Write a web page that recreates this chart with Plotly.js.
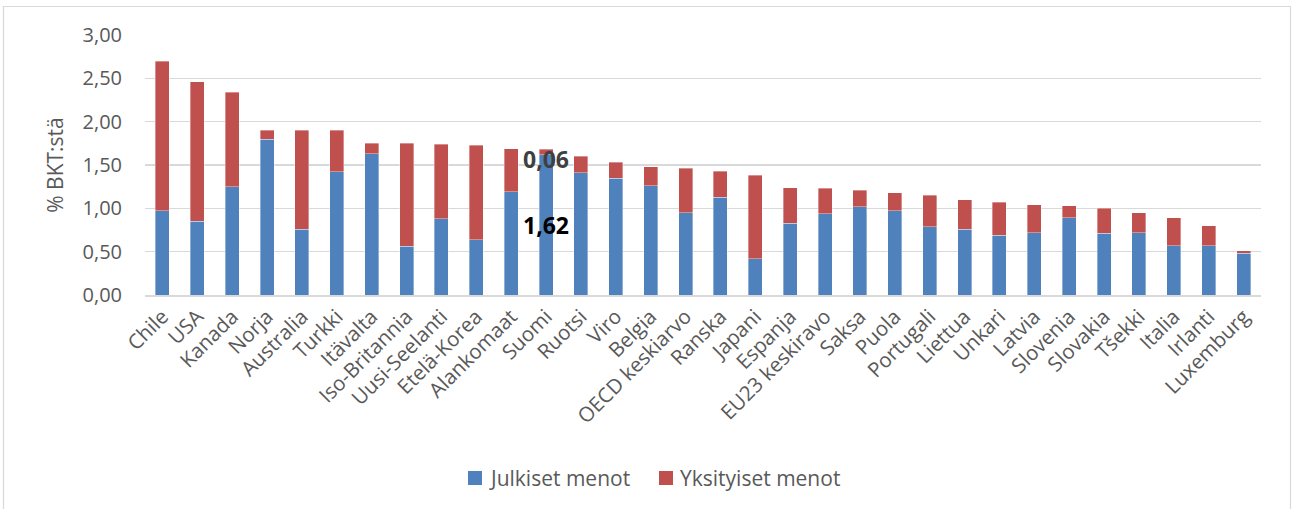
<!DOCTYPE html>
<html>
<head>
<meta charset="utf-8">
<script src="https://cdn.plot.ly/plotly-3.0.1.min.js"></script>
<style>
html,body{margin:0;padding:0;background:#fff;}
#chart{width:1292px;height:509px;}
</style>
</head>
<body>
<div id="chart"></div>
<script>
const categories = ["Chile","USA","Kanada","Norja","Australia","Turkki","Itävalta","Iso-Britannia","Uusi-Seelanti","Etelä-Korea","Alankomaat","Suomi","Ruotsi","Viro","Belgia","OECD keskiarvo","Ranska","Japani","Espanja","EU23 keskiravo","Saksa","Puola","Portugali","Liettua","Unkari","Latvia","Slovenia","Slovakia","Tšekki","Italia","Irlanti","Luxemburg"];
const publicSpend = [0.97,0.85,1.25,1.80,0.76,1.42,1.63,0.56,0.88,0.64,1.19,1.62,1.41,1.35,1.26,0.95,1.13,0.42,0.83,0.94,1.02,0.97,0.79,0.76,0.69,0.72,0.89,0.71,0.72,0.57,0.57,0.48];
const totalSpend  = [2.70,2.46,2.34,1.90,1.90,1.90,1.75,1.75,1.74,1.73,1.69,1.68,1.60,1.53,1.48,1.46,1.43,1.38,1.24,1.23,1.21,1.18,1.15,1.10,1.07,1.04,1.03,1.00,0.95,0.89,0.80,0.51];
const privateSpend = totalSpend.map((t,i)=>+(t-publicSpend[i]).toFixed(2));
const seriesNames = ["Julkiset menot","Yksityiset menot"];
const seriesColors = ["#4F81BD","#C0504D"];
const yTicks = [0,0.5,1,1.5,2,2.5,3];
const labelCategory = "Suomi";

const W=1292,H=509,L=145,R=31,T=35,B=214;
const pw=W-L-R, ph=H-T-B;
const px = x => (x-L)/pw;
const py = y => (H-B-y)/ph;

const li = categories.indexOf(labelCategory);
const fontFam = '"Open Sans", "Noto Sans", sans-serif';
const fmt = v => v.toFixed(2).replace('.',',');

const traces = [
  {type:'bar', name:seriesNames[0], x:categories, y:publicSpend, showlegend:false,
   marker:{color:seriesColors[0], line:{color:'rgba(255,255,255,0.6)', width:0.6}}},
  {type:'bar', name:seriesNames[1], x:categories, y:privateSpend, showlegend:false,
   marker:{color:seriesColors[1], line:{color:'rgba(255,255,255,0.6)', width:0.6}}}
];

// custom legend (square + text), positioned in pixel terms
const legendItems = [{sx:468, tx:487},{sx:659, tx:678}];
const legendY = 478, sq = 14;
const legendShapes = legendItems.map((it,i)=>({type:'rect', xref:'paper', yref:'paper',
  x0:px(it.sx), x1:px(it.sx+sq), y0:py(legendY+sq/2), y1:py(legendY-sq/2),
  fillcolor:seriesColors[i], line:{width:0}}));
const legendTexts = legendItems.map((it,i)=>({xref:'paper', yref:'paper',
  x:px(it.tx), y:py(legendY), xanchor:'left', yanchor:'middle', showarrow:false,
  text:seriesNames[i], font:{size:21, color:'#595959', family:fontFam}}));

const layout = {
  width:W, height:H,
  margin:{l:L, r:R, t:T, b:B, autoexpand:false},
  barmode:'stack', bargap:0.6,
  paper_bgcolor:'#fff', plot_bgcolor:'#fff',
  separators:', ',
  font:{family:fontFam, color:'#595959', size:20},
  showlegend:false,
  xaxis:{type:'category', tickangle:-45, tickfont:{size:20.5, color:'#595959'},
         showgrid:false, showline:true, linecolor:'#d9d9d9', linewidth:1.5,
         ticks:'', automargin:false, fixedrange:true},
  yaxis:{range:[0,3], tickvals:yTicks, tickformat:'.2f', tickfont:{size:20, color:'#595959'},
         showgrid:true, gridcolor:'#d9d9d9', gridwidth:1.5, zeroline:false,
         showline:false, ticks:'', ticklabelstandoff:22, automargin:false,
         title:{text:'% BKT:stä', font:{size:21, color:'#595959'}, standoff:13}},
  shapes:[{type:'rect', xref:'paper', yref:'paper',
           x0:px(3.5), x1:px(1290.5), y0:py(520), y1:py(6.5),
           line:{color:'#d9d9d9', width:1.2}, fillcolor:'rgba(0,0,0,0)', layer:'below'}
         ].concat(legendShapes),
  annotations:[
    {x:categories[li], y:publicSpend[li]+privateSpend[li]/2, xref:'x', yref:'y',
     text:'<b>'+fmt(privateSpend[li])+'</b>', showarrow:false,
     xshift:0, yshift:-7, font:{size:23, color:'#404040', family:fontFam}},
    {x:categories[li], y:publicSpend[li]/2, xref:'x', yref:'y',
     text:'<b>'+fmt(publicSpend[li])+'</b>', showarrow:false,
     xshift:0, yshift:0, font:{size:23, color:'#000', family:fontFam}}
  ].concat(legendTexts)
};

Plotly.newPlot('chart', traces, layout, {displayModeBar:false, staticPlot:true});
</script>
</body>
</html>
